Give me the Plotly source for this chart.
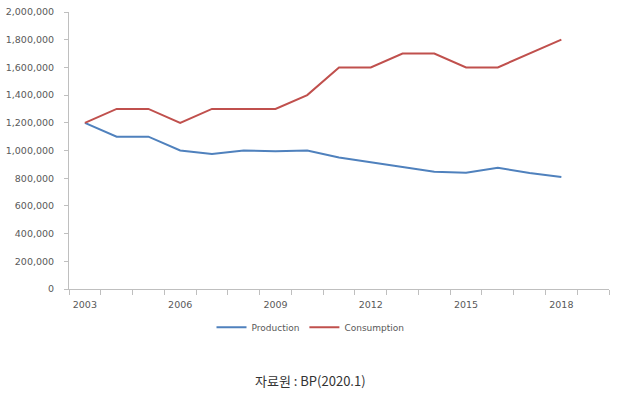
import plotly.graph_objects as go

years = list(range(2003, 2019))
production = [1200000, 1100000, 1100000, 1000000, 975000, 1000000, 995000, 1000000,
              950000, 915000, 878000, 847000, 840000, 876000, 837000, 808000]
consumption = [1200000, 1300000, 1300000, 1200000, 1300000, 1300000, 1300000, 1400000,
               1600000, 1600000, 1700000, 1700000, 1600000, 1600000, 1700000, 1800000]
x_labels = [2003, 2006, 2009, 2012, 2015, 2018]
y_ticks = list(range(0, 2000001, 200000))
caption = "자료원 : BP(2020.1)"

fig = go.Figure()
fig.add_trace(go.Scatter(x=years, y=production, mode="lines", name="Production",
                         line=dict(color="#4f81bd", width=2)))
fig.add_trace(go.Scatter(x=years, y=consumption, mode="lines", name="Consumption",
                         line=dict(color="#c0504d", width=2)))

axis_color = "#bfbfbf"
tick_font = dict(family="DejaVu Sans", size=9.5, color="#595959")

fig.update_layout(
    width=621, height=397,
    margin=dict(l=69, r=12, t=12, b=108, autoexpand=False),
    paper_bgcolor="white", plot_bgcolor="white",
    showlegend=True,
    legend=dict(orientation="h", xref="container", yref="container",
                x=0.5, y=0.176, xanchor="center", yanchor="middle",
                font=dict(family="DejaVu Sans", size=9, color="#595959"),
                itemwidth=30, tracegroupgap=0),
    xaxis=dict(range=[2002.5, 2019.5], tickvals=x_labels, ticktext=[str(v) for v in x_labels],
               ticks="", showgrid=False, zeroline=False, showline=True, automargin=False,
               linecolor=axis_color, linewidth=1, tickfont=tick_font,
               ticklabelstandoff=7,
               minor=dict(tickvals=[2002.5 + k for k in range(18)], ticks="outside",
                          ticklen=5, tickcolor=axis_color, showgrid=False)),
    yaxis=dict(range=[0, 2000000], tickvals=y_ticks, tickformat=",d",
               ticks="outside", ticklen=4, tickcolor=axis_color, automargin=False,
               showgrid=False, zeroline=False, showline=True,
               linecolor=axis_color, linewidth=1, tickfont=tick_font,
               ticklabelstandoff=8),
    annotations=[dict(text=caption, xref="paper", yref="paper",
                      x=0.448, y=-0.332, xanchor="center", yanchor="middle",
                      showarrow=False,
                      font=dict(family="Noto Sans CJK KR", size=13, color="#333333"))],
)

fig.write_html("out.html", config={"displayModeBar": False},
               post_script="document.body.style.margin='0';")
